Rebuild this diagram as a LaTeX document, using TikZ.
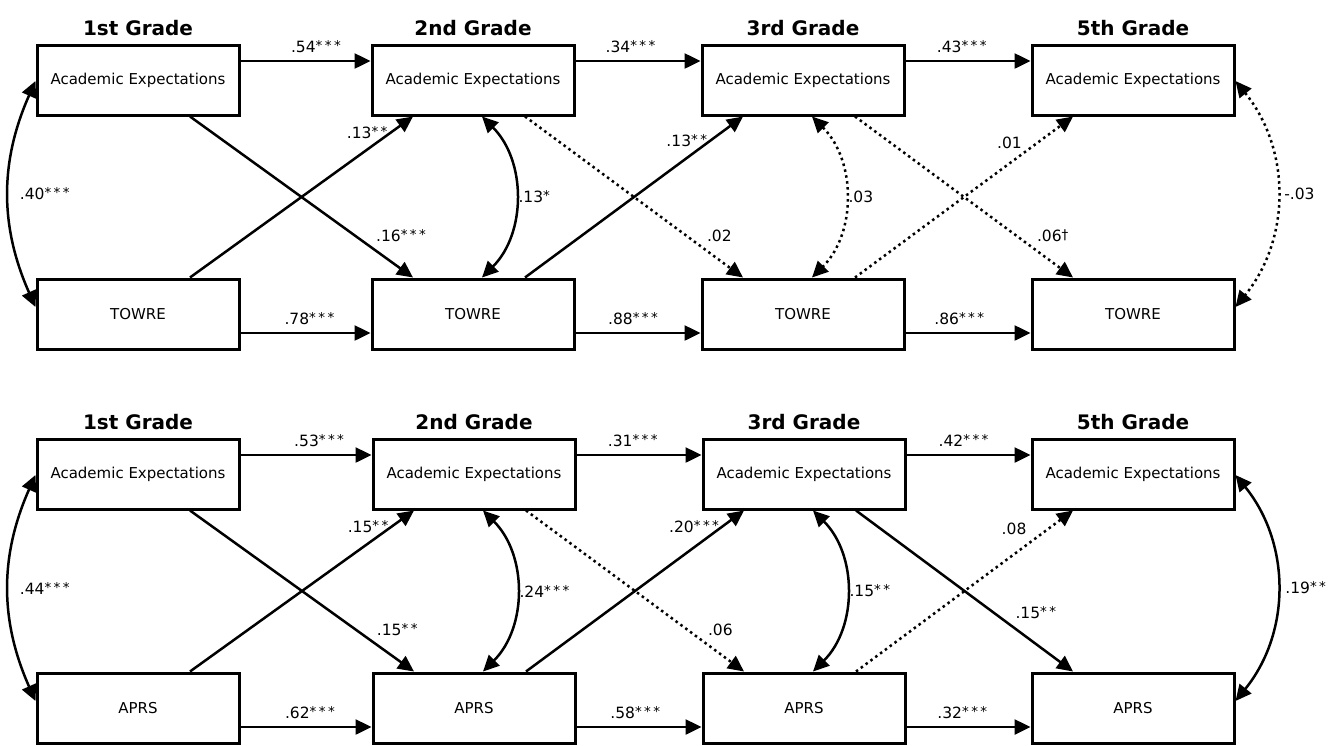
\documentclass[tikz,border=0pt]{standalone}
\usepackage{fontspec}
\setmainfont{DejaVu Sans}
\usetikzlibrary{arrows.meta,positioning}
\newcommand{\sig}[1]{\raisebox{2pt}{\fontsize{13.5}{13.5}\selectfont\addfontfeature{LetterSpace=18}#1}}
\tikzset{
  box/.style={draw, line width=3pt, minimum width=202pt, minimum height=70pt, inner sep=0pt, font=\fontsize{15}{18}\selectfont},
  grade/.style={inner sep=0pt, font=\fontsize{20}{24}\selectfont\bfseries},
  eff/.style={line width=2.5pt, -{Triangle[length=16pt,width=15pt]}},
  cov/.style={line width=2.5pt, {Triangle[length=16pt,width=15pt]}-{Triangle[length=16pt,width=15pt]}},
  ns/.style={dash pattern=on 2.5pt off 3.5pt},
  lab/.style={inner sep=2pt, font=\fontsize{15.5}{18}\selectfont},
}
\begin{document}
\begin{tikzpicture}[x=1pt,y=-1pt]
\useasboundingbox (0,0) rectangle (1341,745);
% expectations and TOWRE
\begin{scope}
\node[box] (tae1) at (138,80) {Academic Expectations};
\node[box] (tae2) at (473,80) {Academic Expectations};
\node[box] (tae3) at (803,80) {Academic Expectations};
\node[box] (tae5) at (1133,80) {Academic Expectations};
\node[box] (ttw1) at (138,314) {TOWRE};
\node[box] (ttw2) at (473,314) {TOWRE};
\node[box] (ttw3) at (803,314) {TOWRE};
\node[box] (ttw5) at (1133,314) {TOWRE};
\node[grade, above=8pt of tae1] (tg1) {1st Grade};
\node[grade, above=8pt of tae2] (tg2) {2nd Grade};
\node[grade, above=8pt of tae3] (tg3) {3rd Grade};
\node[grade, above=8pt of tae5] (tg5) {5th Grade};
% stability paths
\draw[eff] ([yshift=19pt]tae1.east) -- node[lab, above=5pt, pos=.58] {.54\sig{***}} ([yshift=19pt]tae2.west);
\draw[eff] ([yshift=19pt]tae2.east) -- node[lab, above=5pt, pos=.44] {.34\sig{***}} ([yshift=19pt]tae3.west);
\draw[eff] ([yshift=19pt]tae3.east) -- node[lab, above=5pt, pos=.45] {.43\sig{***}} ([yshift=19pt]tae5.west);
\draw[eff] ([yshift=-19pt]ttw1.east) -- node[lab, above=5pt, pos=.53] {.78\sig{***}} ([yshift=-19pt]ttw2.west);
\draw[eff] ([yshift=-19pt]ttw2.east) -- node[lab, above=5pt, pos=.46] {.88\sig{***}} ([yshift=-19pt]ttw3.west);
\draw[eff] ([yshift=-19pt]ttw3.east) -- node[lab, above=5pt, pos=.43] {.86\sig{***}} ([yshift=-19pt]ttw5.west);
% cross-lagged paths
\draw[eff] ([xshift=52pt]tae1.south) -- node[lab, pos=.82, anchor=south west, yshift=4pt] {.16\sig{***}} ([xshift=-60pt]ttw2.north);
\draw[eff] ([xshift=52pt]ttw1.north) -- node[lab, pos=.9, anchor=east] {.13\sig{**}} ([xshift=-60pt]tae2.south);
\draw[eff,ns] ([xshift=52pt]tae2.south) -- node[lab, pos=.82, anchor=south west, yshift=4pt] {.02} ([xshift=-60pt]ttw3.north);
\draw[eff] ([xshift=52pt]ttw2.north) -- node[lab, pos=.85, anchor=east] {.13\sig{**}} ([xshift=-60pt]tae3.south);
\draw[eff,ns] ([xshift=52pt]tae3.south) -- node[lab, pos=.82, anchor=south west, yshift=4pt] {.06\sig{†}} ([xshift=-60pt]ttw5.north);
\draw[eff,ns] ([xshift=52pt]ttw3.north) -- node[lab, pos=.78, anchor=south east] {.01} ([xshift=-60pt]tae5.south);
% correlations
\draw[cov] ([yshift=-1pt]tae1.west) to[bend right=24] node[lab, right=8pt] {.40\sig{***}} ([yshift=7pt]ttw1.west);
\draw[cov] ([xshift=9pt]tae2.south) to[bend left=45] node[lab, right] {.13\sig{*}} ([xshift=9pt]ttw2.north);
\draw[cov,ns] ([xshift=9pt]tae3.south) to[bend left=45] node[lab, right] {.03} ([xshift=9pt]ttw3.north);
\draw[cov,ns] ([yshift=-1pt]tae5.east) to[bend left=39] node[lab, right=4pt] {-.03} ([yshift=7pt]ttw5.east);
\end{scope}
% expectations and APRS
\begin{scope}[shift={(0,394)}]
\node[box] (bae1) at (138,80) {Academic Expectations};
\node[box] (bae2) at (474,80) {Academic Expectations};
\node[box] (bae3) at (804,80) {Academic Expectations};
\node[box] (bae5) at (1133,80) {Academic Expectations};
\node[box] (bap1) at (138,314) {APRS};
\node[box] (bap2) at (474,314) {APRS};
\node[box] (bap3) at (804,314) {APRS};
\node[box] (bap5) at (1133,314) {APRS};
\node[grade, above=8pt of bae1] (bg1) {1st Grade};
\node[grade, above=8pt of bae2] (bg2) {2nd Grade};
\node[grade, above=8pt of bae3] (bg3) {3rd Grade};
\node[grade, above=8pt of bae5] (bg5) {5th Grade};
% stability paths
\draw[eff] ([yshift=19pt]bae1.east) -- node[lab, above=5pt, pos=.6] {.53\sig{***}} ([yshift=19pt]bae2.west);
\draw[eff] ([yshift=19pt]bae2.east) -- node[lab, above=5pt, pos=.45] {.31\sig{***}} ([yshift=19pt]bae3.west);
\draw[eff] ([yshift=19pt]bae3.east) -- node[lab, above=5pt, pos=.46] {.42\sig{***}} ([yshift=19pt]bae5.west);
\draw[eff] ([yshift=-19pt]bap1.east) -- node[lab, above=5pt, pos=.53] {.62\sig{***}} ([yshift=-19pt]bap2.west);
\draw[eff] ([yshift=-19pt]bap2.east) -- node[lab, above=5pt, pos=.47] {.58\sig{***}} ([yshift=-19pt]bap3.west);
\draw[eff] ([yshift=-19pt]bap3.east) -- node[lab, above=5pt, pos=.45] {.32\sig{***}} ([yshift=-19pt]bap5.west);
% cross-lagged paths
\draw[eff] ([xshift=52pt]bae1.south) -- node[lab, pos=.82, anchor=south west, yshift=4pt] {.15\sig{**}} ([xshift=-60pt]bap2.north);
\draw[eff] ([xshift=52pt]bap1.north) -- node[lab, pos=.9, anchor=east] {.15\sig{**}} ([xshift=-60pt]bae2.south);
\draw[eff,ns] ([xshift=52pt]bae2.south) -- node[lab, pos=.82, anchor=south west, yshift=4pt] {.06} ([xshift=-60pt]bap3.north);
\draw[eff] ([xshift=52pt]bap2.north) -- node[lab, pos=.9, anchor=east] {.20\sig{***}} ([xshift=-60pt]bae3.south);
\draw[eff] ([xshift=52pt]bae3.south) -- node[lab, pos=.72, anchor=south west, yshift=4pt] {.15\sig{**}} ([xshift=-60pt]bap5.north);
\draw[eff,ns] ([xshift=52pt]bap3.north) -- node[lab, pos=.8, anchor=south east, yshift=5pt] {.08} ([xshift=-60pt]bae5.south);
% correlations
\draw[cov] ([yshift=-1pt]bae1.west) to[bend right=24] node[lab, right=8pt] {.44\sig{***}} ([yshift=7pt]bap1.west);
\draw[cov] ([xshift=9pt]bae2.south) to[bend left=45] node[lab, right] {.24\sig{***}} ([xshift=9pt]bap2.north);
\draw[cov] ([xshift=9pt]bae3.south) to[bend left=45] node[lab, right] {.15\sig{**}} ([xshift=9pt]bap3.north);
\draw[cov] ([yshift=-1pt]bae5.east) to[bend left=39] node[lab, right=5pt] {.19\sig{**}} ([yshift=7pt]bap5.east);
\end{scope}
\end{tikzpicture}
\end{document}
